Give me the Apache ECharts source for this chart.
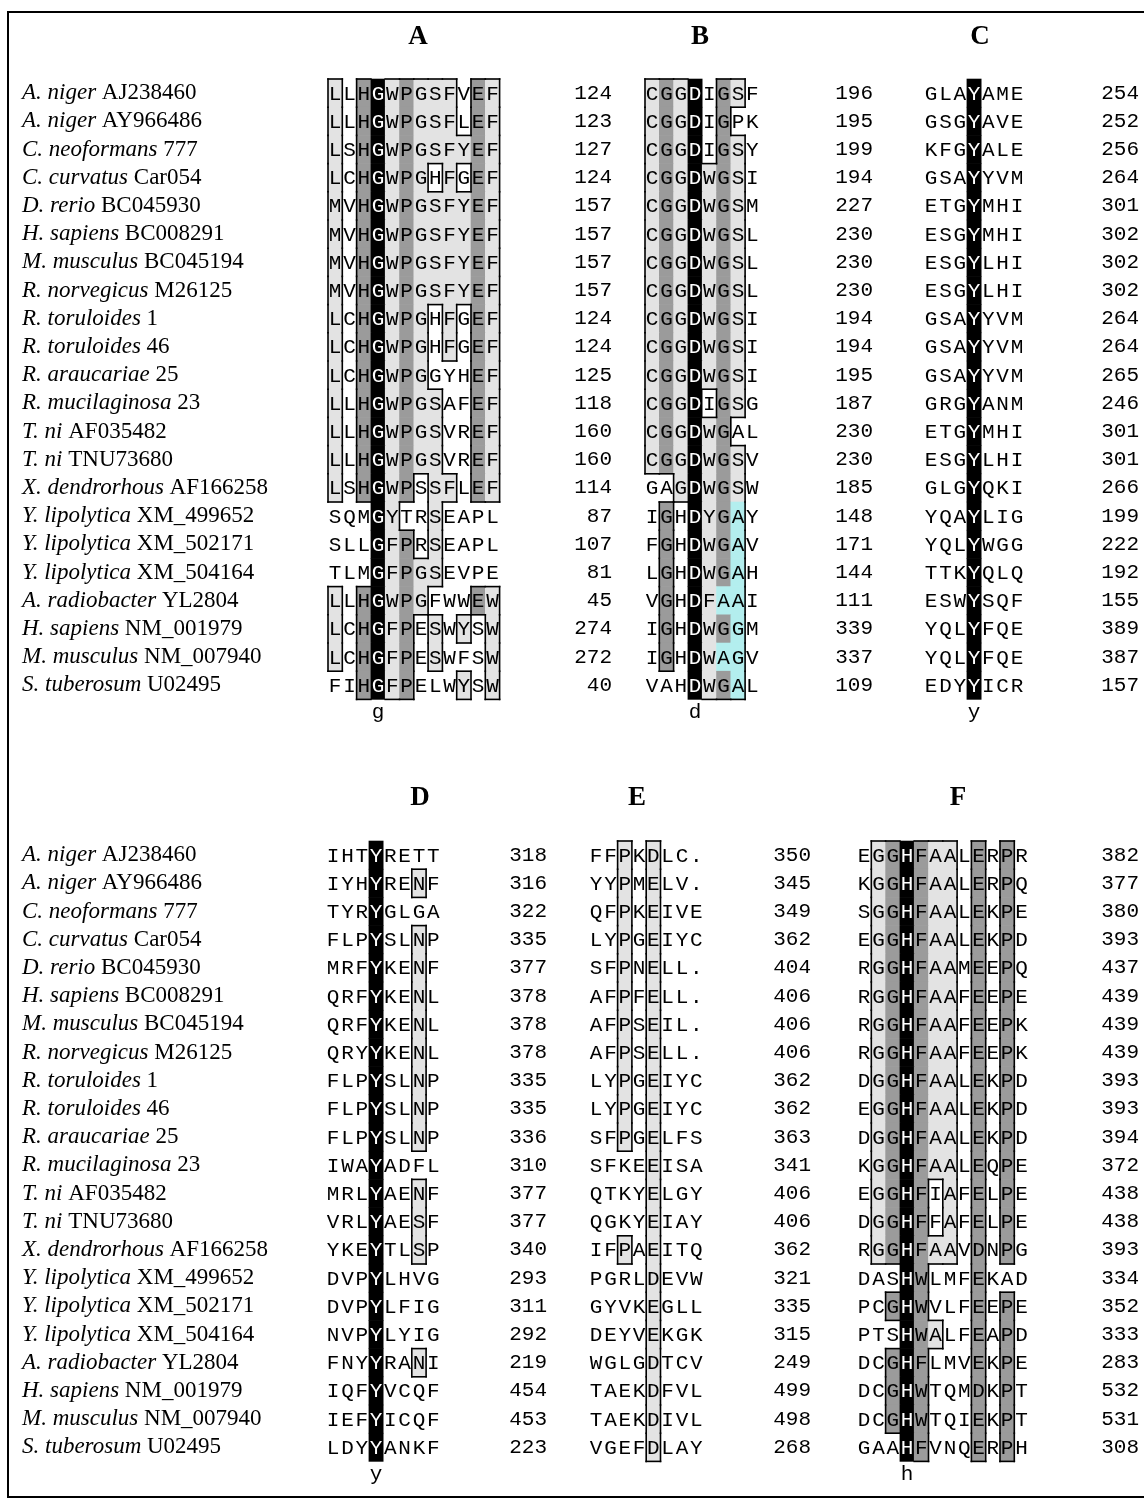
<!DOCTYPE html>
<html><head><meta charset="utf-8">
<script src="https://cdn.jsdelivr.net/npm/echarts@6/dist/echarts.min.js"></script>
<style>html,body{margin:0;padding:0;background:#fff}#chart{width:1144px;height:1503px}</style>
</head><body><div id="chart"></div>
<script>
// ---------------- data ----------------
const genus = ["A. niger","A. niger","C. neoformans","C. curvatus","D. rerio","H. sapiens","M. musculus","R. norvegicus","R. toruloides","R. toruloides","R. araucariae","R. mucilaginosa","T. ni","T. ni","X. dendrorhous","Y. lipolytica","Y. lipolytica","Y. lipolytica","A. radiobacter","H. sapiens","M. musculus","S. tuberosum"];
const accession = ["AJ238460","AY966486","777","Car054","BC045930","BC008291","BC045194","M26125","1","46","25","23","AF035482","TNU73680","AF166258","XM_499652","XM_502171","XM_504164","YL2804","NM_001979","NM_007940","U02495"];

const blockNames = ["A","B","C","D","E","F"];
const markLetters = ["g","d","y","y","","h"];

const seqA = ["LLHGWPGSFVEF","LLHGWPGSFLEF","LSHGWPGSFYEF","LCHGWPGHFGEF","MVHGWPGSFYEF","MVHGWPGSFYEF","MVHGWPGSFYEF","MVHGWPGSFYEF","LCHGWPGHFGEF","LCHGWPGHFGEF","LCHGWPGGYHEF","LLHGWPGSAFEF","LLHGWPGSVREF","LLHGWPGSVREF","LSHGWPSSFLEF","SQMGYTRSEAPL","SLLGFPRSEAPL","TLMGFPGSEVPE","LLHGWPGFWWEW","LCHGFPESWYSW","LCHGFPESWFSW","FIHGFPELWYSW"];
const numA = [124,123,127,124,157,157,157,157,124,124,125,118,160,160,114,87,107,81,45,274,272,40];
const shadeA = ["l.dkldlll.dl","l.dkldlll.dl","l.dkldlllldl","l.dkldl.l.dl","l.dkldlllldl","l.dkldlllldl","l.dkldlllldl","l.dkldlllldl","l.dkldl.l.dl","l.dkldl.l.dl","l.dkldl...dl","l.dkldll..dl","l.dkldll..dl","l.dkldll..dl","l.dkld.ll.dl","...kl..l....","...kld.l....","...kldll....","l.dkldl...dl","l.dkld.l.l.l","l.dkld.l...l","..dkld...l.l"];

const seqB = ["CGGDIGSF","CGGDIGPK","CGGDIGSY","CGGDWGSI","CGGDWGSM","CGGDWGSL","CGGDWGSL","CGGDWGSL","CGGDWGSI","CGGDWGSI","CGGDWGSI","CGGDIGSG","CGGDWGAL","CGGDWGSV","GAGDWGSW","IGHDYGAY","FGHDWGAV","LGHDWGAH","VGHDFAAI","IGHDWGGM","IGHDWAGV","VAHDWGAL"];
const numB = [196,195,199,194,227,230,230,230,194,194,195,187,230,230,185,148,171,144,111,339,337,109];
const shadeB = ["ldlk.dl.","ldlk.d..","ldlk.dl.","ldlkldl.","ldlkldl.","ldlkldl.","ldlkldl.","ldlkldl.","ldlkldl.","ldlkldl.","ldlkldl.","ldlk.dl.","ldlkld..","ldlkldl.","..lkldl.",".d.kldc.",".d.kldc.",".d.kldc.",".d.klcc.",".d.kldc.",".d.klcc.","...kldc."];

const seqC = ["GLAYAME","GSGYAVE","KFGYALE","GSAYYVM","ETGYMHI","ESGYMHI","ESGYLHI","ESGYLHI","GSAYYVM","GSAYYVM","GSAYYVM","GRGYANM","ETGYMHI","ESGYLHI","GLGYQKI","YQAYLIG","YQLYWGG","TTKYQLQ","ESWYSQF","YQLYFQE","YQLYFQE","EDYYICR"];
const numC = [254,252,256,264,301,302,302,302,264,264,265,246,301,301,266,199,222,192,155,389,387,157];
const shadeC = ["...k...","...k...","...k...","...k...","...k...","...k...","...k...","...k...","...k...","...k...","...k...","...k...","...k...","...k...","...k...","...k...","...k...","...k...","...k...","...k...","...k...","...k..."];

const seqD = ["IHTYRETT","IYHYRENF","TYRYGLGA","FLPYSLNP","MRFYKENF","QRFYKENL","QRFYKENL","QRYYKENL","FLPYSLNP","FLPYSLNP","FLPYSLNP","IWAYADFL","MRLYAENF","VRLYAESF","YKEYTLSP","DVPYLHVG","DVPYLFIG","NVPYLYIG","FNYYRANI","IQFYVCQF","IEFYICQF","LDYYANKF"];
const numD = [318,316,322,335,377,378,378,378,335,335,336,310,377,377,340,293,311,292,219,454,453,223];
const shadeD = ["...k....","...k..l.","...k....","...k..l.","...k..l.","...k..l.","...k..l.","...k..l.","...k..l.","...k..l.","...k..l.","...k....","...k..l.","...k..l.","...k..l.","...k....","...k....","...k....","...k..l.","...k....","...k....","...k...."];

const seqE = ["FFPKDLC.","YYPMELV.","QFPKEIVE","LYPGEIYC","SFPNELL.","AFPFELL.","AFPSEIL.","AFPSELL.","LYPGEIYC","LYPGEIYC","SFPGELFS","SFKEEISA","QTKYELGY","QGKYEIAY","IFPAEITQ","PGRLDEVW","GYVKEGLL","DEYVEKGK","WGLGDTCV","TAEKDFVL","TAEKDIVL","VGEFDLAY"];
const numE = [350,345,349,362,404,406,406,406,362,362,363,341,406,406,362,321,335,315,249,499,498,268];
const shadeE = ["..l.l...","..l.l...","..l.l...","..l.l...","..l.l...","..l.l...","..l.l...","..l.l...","..l.l...","..l.l...","..l.l...","....l...","....l...","....l...","..l.l...","....l...","....l...","....l...","....l...","....l...","....l...","....l..."];

const seqF = ["EGGHFAALERPR","KGGHFAALERPQ","SGGHFAALEKPE","EGGHFAALEKPD","RGGHFAAMEEPQ","RGGHFAAFEEPE","RGGHFAAFEEPK","RGGHFAAFEEPK","DGGHFAALEKPD","EGGHFAALEKPD","DGGHFAALEKPD","KGGHFAALEQPE","EGGHFIAFELPE","DGGHFFAFELPE","RGGHFAAVDNPG","DASHWLMFEKAD","PCGHWVLFEEPE","PTSHWALFEAPD","DCGHFLMVEKPE","DCGHWTQMDKPT","DCGHWTQIEKPT","GAAHFVNQERPH"];
const numF = [382,377,380,393,437,439,439,439,393,393,394,372,438,438,393,334,352,333,283,532,531,308];
const shadeF = [".ldkdll.d.d.",".ldkdll.d.d.",".ldkdll.d.d.",".ldkdll.d.d.",".ldkdll.d.d.",".ldkdll.d.d.",".ldkdll.d.d.",".ldkdll.d.d.",".ldkdll.d.d.",".ldkdll.d.d.",".ldkdll.d.d.",".ldkdll.d.d.",".ldkd.l.d.d.",".ldkd.l.d.d.",".ldkdll.d.d.","...kd...d...","..dkd...d.d.","...kdl..d.d.","..dkd...d.d.","..dkd...d.d.","..dkd...d.d.","...kd...d.d."];

// ---------------- layout / style ----------------
const CW = 14.3, RH = 28.2;
const TOP1 = 79, TOP2 = 841;
const MONO = "'Courier New', 'Liberation Mono', monospace";
const SERIF = "'Times New Roman', 'Liberation Serif', serif";
const SEQ_FS = 21, NUM_FS = 21, LAB_FS = 23;
const FILL = { l: '#e3e3e3', d: '#9b9b9b', k: '#000000', c: '#b3eeee' };
const LINE = { stroke: '#000', lineWidth: 1.6 };

const layout = [
  { left: 328, top: TOP1, numRight: 612, labels: true,  hx: 418, hy: 37 },
  { left: 645, top: TOP1, numRight: 873, labels: false, hx: 700, hy: 37 },
  { left: 924, top: TOP1, numRight: 1139, labels: false, hx: 980, hy: 37 },
  { left: 326, top: TOP2, numRight: 547, labels: true,  hx: 420, hy: 798 },
  { left: 589, top: TOP2, numRight: 811, labels: false, hx: 637, hy: 798 },
  { left: 857, top: TOP2, numRight: 1139, labels: false, hx: 958, hy: 798 }
];
const blockData = [
  { seq: seqA, num: numA, shade: shadeA },
  { seq: seqB, num: numB, shade: shadeB },
  { seq: seqC, num: numC, shade: shadeC },
  { seq: seqD, num: numD, shade: shadeD },
  { seq: seqE, num: numE, shade: shadeE },
  { seq: seqF, num: numF, shade: shadeF }
];

function isReg(s) { return s === 'l' || s === 'd' || s === 'c' || s === 'k'; }

function renderFor(b) {
  const nr = b.seq.length, nc = b.seq[0].length;
  const nb = (rr, cc) => (rr < 0 || rr >= nr || cc < 0 || cc >= nc) ? '.' : b.shade[rr][cc];
  return function (params, api) {
    const c = api.value(0), r = api.value(1);
    const p = api.coord([c, r]);
    const sz = api.size([1, 1]);
    const w = sz[0], h = sz[1];
    const x0 = p[0] - w / 2, y0 = p[1] - h / 2;
    const s = b.shade[r][c];
    const kids = [];
    if (FILL[s]) kids.push({ type: 'rect', z2: 0, shape: { x: x0 - 0.3, y: y0 - 0.3, width: w + 0.6, height: h + 0.6 }, style: { fill: FILL[s] } });
    kids.push({ type: 'text', z2: 5, style: { text: b.seq[r][c], x: p[0], y: p[1] + 1, align: 'center', verticalAlign: 'middle', fontFamily: MONO, fontSize: SEQ_FS, fill: s === 'k' ? '#fff' : '#000' } });
    if (s === 'l' || s === 'd' || s === 'c') {
      const e = LINE.lineWidth / 2;
      if (!isReg(nb(r - 1, c))) kids.push({ type: 'line', z2: 8, shape: { x1: x0 - e, y1: y0, x2: x0 + w + e, y2: y0 }, style: LINE });
      if (!isReg(nb(r + 1, c))) kids.push({ type: 'line', z2: 8, shape: { x1: x0 - e, y1: y0 + h, x2: x0 + w + e, y2: y0 + h }, style: LINE });
      if (!isReg(nb(r, c - 1))) kids.push({ type: 'line', z2: 8, shape: { x1: x0, y1: y0 - e, x2: x0, y2: y0 + h + e }, style: LINE });
      if (!isReg(nb(r, c + 1))) kids.push({ type: 'line', z2: 8, shape: { x1: x0 + w, y1: y0 - e, x2: x0 + w, y2: y0 + h + e }, style: LINE });
    }
    return { type: 'group', children: kids };
  };
}

const grids = [], xAxes = [], yAxes = [], series = [], graphics = [];
blockData.forEach((b, i) => {
  const L = layout[i];
  const nc = b.seq[0].length, nr = b.seq.length;
  const gw = nc * CW, gh = nr * RH;
  grids.push({ left: L.left, top: L.top, width: gw, height: gh });
  const xcats = [];
  for (let c = 0; c < nc; c++) xcats.push(c === 3 ? markLetters[i] : '');
  xAxes.push({
    type: 'category', gridIndex: i, data: xcats, position: 'bottom',
    axisLine: { show: false }, axisTick: { show: false }, splitLine: { show: false },
    axisLabel: { show: true, interval: 0, margin: 3, fontFamily: MONO, fontSize: SEQ_FS, color: '#000' }
  });
  const yLeft = yAxes.length;
  yAxes.push({
    type: 'category', gridIndex: i, inverse: true, position: 'left',
    data: genus.map((g, k) => String(k)),
    axisLine: { show: false }, axisTick: { show: false }, splitLine: { show: false },
    axisLabel: {
      show: L.labels, interval: 0, align: 'left', margin: L.left - 22, color: '#000',
      fontFamily: SERIF, fontSize: LAB_FS,
      formatter: (v, k) => '{i|' + genus[k] + '} {r|' + accession[k] + '}',
      rich: {
        i: { fontFamily: SERIF, fontSize: LAB_FS, fontStyle: 'italic', color: '#000' },
        r: { fontFamily: SERIF, fontSize: LAB_FS, color: '#000' }
      }
    }
  });
  yAxes.push({
    type: 'category', gridIndex: i, inverse: true, position: 'right',
    data: b.num.map(String),
    axisLine: { show: false }, axisTick: { show: false }, splitLine: { show: false },
    axisLabel: { show: true, interval: 0, align: 'right', margin: L.numRight - (L.left + gw), fontFamily: MONO, fontSize: NUM_FS, color: '#000' }
  });
  const data = [];
  for (let r = 0; r < nr; r++) for (let c = 0; c < nc; c++) data.push([c, r]);
  series.push({
    type: 'custom', xAxisIndex: i, yAxisIndex: yLeft, data: data,
    encode: { x: 0, y: 1 }, renderItem: renderFor(b), silent: true
  });
  graphics.push({
    type: 'text', x: L.hx, y: L.hy,
    style: { text: blockNames[i], align: 'center', verticalAlign: 'middle', fontFamily: SERIF, fontSize: 27, fontWeight: 'bold', fill: '#000' }
  });
});
graphics.push({ type: 'rect', shape: { x: 8, y: 12, width: 1170, height: 1485 }, style: { fill: 'none', stroke: '#000', lineWidth: 2 } });

const chart = echarts.init(document.getElementById('chart'), null, { renderer: 'canvas' });
chart.setOption({
  animation: false,
  backgroundColor: '#fff',
  grid: grids, xAxis: xAxes, yAxis: yAxes, series: series,
  graphic: graphics
});
</script>
</body></html>
